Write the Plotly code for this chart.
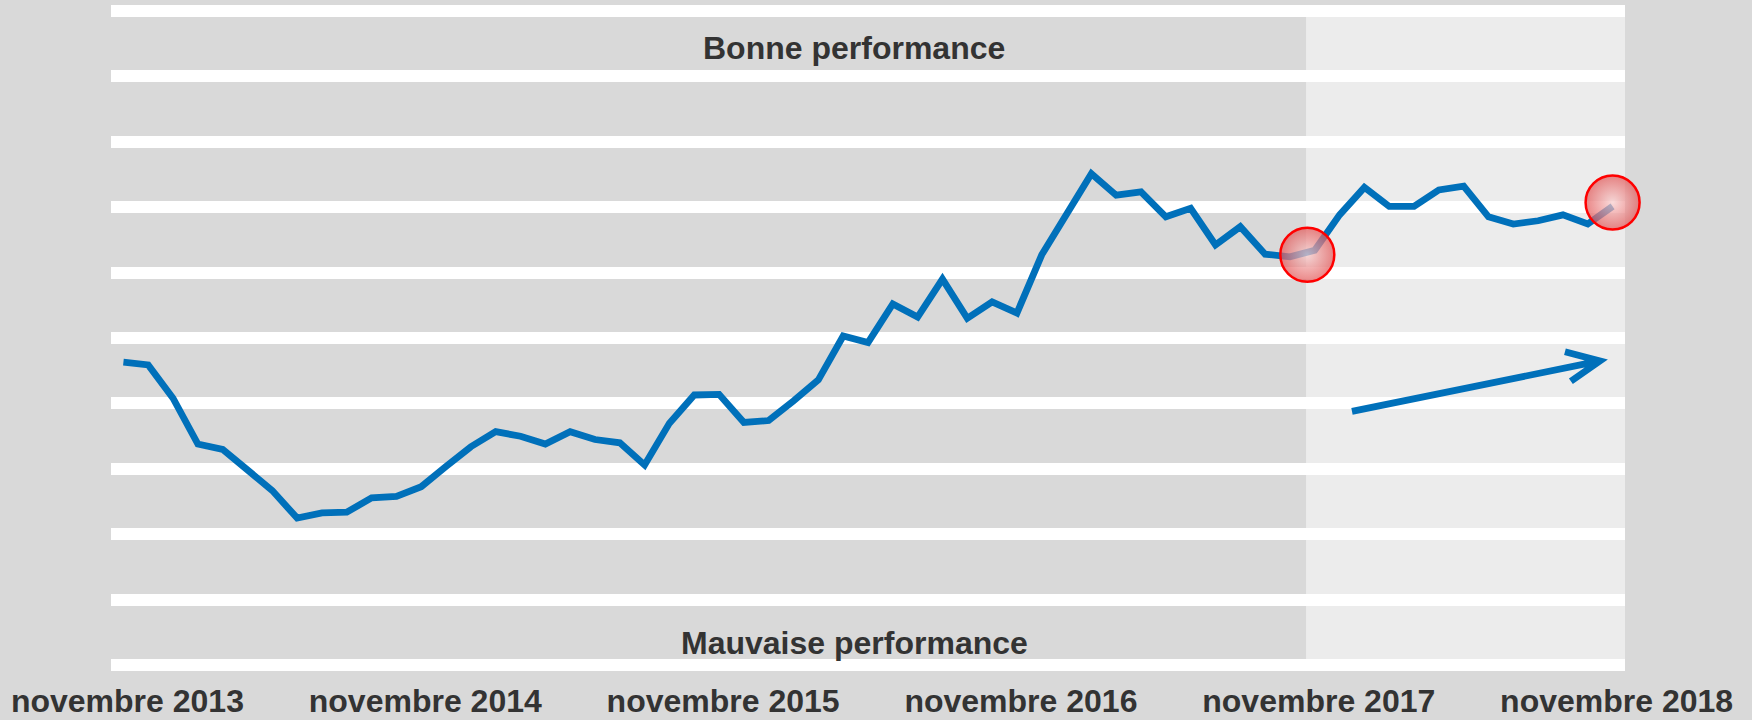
import plotly.graph_objects as go

# ---- data ----
tick_labels = ["novembre 2013", "novembre 2014", "novembre 2015",
               "novembre 2016", "novembre 2017", "novembre 2018"]
tick_months = [0, 12, 24, 36, 48, 60]          # month index of each label

months = list(range(61))                         # Nov 2013 .. Nov 2018, monthly
values = [4.63, 4.59, 4.08, 3.38, 3.30, 2.99, 2.67, 2.25, 2.33, 2.34,
          2.56, 2.58, 2.73, 3.04, 3.34, 3.57, 3.50, 3.38, 3.57, 3.45,
          3.40, 3.06, 3.70, 4.13, 4.14, 3.71, 3.74, 4.04, 4.36, 5.03,
          4.93, 5.52, 5.32, 5.90, 5.30, 5.55, 5.38, 6.27, 6.90, 7.51,
          7.18, 7.23, 6.85, 6.98, 6.42, 6.70, 6.28, 6.24, 6.34, 6.88,
          7.30, 7.01, 7.01, 7.26, 7.32, 6.85, 6.74, 6.79, 6.88, 6.74,
          7.01]

highlight_x = [47.7, 60.0]      # red circles
highlight_y = [6.27, 7.07]

recent_period_start = 47.65     # start of lighter (recent) period
arrow_tail = (49.5, 3.88)
arrow_tip = (59.49, 4.65)
arrow_wing_up = (58.08, 4.79)
arrow_wing_low = (58.32, 4.34)

top_label = "Bonne performance"
bottom_label = "Mauvaise performance"

BLUE = "#0070BA"
TEXT = "#333333"
FONT = "Liberation Sans, Arial, sans-serif"
FSIZE = 32

fig = go.Figure()

fig.add_trace(go.Scatter(
    x=months, y=values, mode="lines",
    line=dict(color=BLUE, width=6.8),
    hoverinfo="skip", showlegend=False,
))

fig.add_trace(go.Scatter(
    x=highlight_x, y=highlight_y, mode="markers", cliponaxis=False,
    marker=dict(size=54, color="rgba(226,88,88,0.72)",
                gradient=dict(type="radial", color="rgba(248,205,205,0.72)"),
                line=dict(color="#FF0000", width=2.5)),
    hoverinfo="skip", showlegend=False,
))

# lighter recent-period background
fig.add_shape(type="rect", xref="x", yref="y",
              x0=recent_period_start, x1=60.5, y0=0, y1=10,
              fillcolor="#ECECEC", line=dict(width=0), layer="below")

# trend arrow
path = (f"M {arrow_tail[0]},{arrow_tail[1]} L {arrow_tip[0]},{arrow_tip[1]} "
        f"M {arrow_wing_up[0]},{arrow_wing_up[1]} L {arrow_tip[0]},{arrow_tip[1]} "
        f"L {arrow_wing_low[0]},{arrow_wing_low[1]}")
fig.add_shape(type="path", xref="x", yref="y", path=path,
              line=dict(color=BLUE, width=6.8), layer="above")

fig.add_annotation(text=top_label, xref="paper", yref="paper",
                   x=0.4908, y=0.934, xanchor="center", yanchor="middle",
                   showarrow=False,
                   font=dict(family=FONT, size=FSIZE, color=TEXT, weight="bold"))
fig.add_annotation(text=bottom_label, xref="paper", yref="paper",
                   x=0.4908, y=0.0434, xanchor="center", yanchor="middle",
                   showarrow=False,
                   font=dict(family=FONT, size=FSIZE, color=TEXT, weight="bold"))

fig.update_xaxes(
    range=[-0.5, 60.5], showgrid=False, zeroline=False, showline=False,
    tickmode="array", tickvals=tick_months, ticktext=tick_labels,
    ticks="", ticklabelshift=4, ticklabelstandoff=7,
    tickfont=dict(family=FONT, size=FSIZE, color=TEXT, weight="bold"),
)
fig.update_yaxes(
    range=[-0.1, 10.1], tickmode="linear", tick0=0, dtick=1,
    showgrid=True, gridcolor="#FFFFFF", gridwidth=12,
    zeroline=False, showline=False, showticklabels=False, ticks="",
)

fig.update_layout(
    width=1752, height=720,
    margin=dict(l=111, r=127, t=4, b=48, autoexpand=False),
    paper_bgcolor="#D9D9D9", plot_bgcolor="#D9D9D9",
    showlegend=False,
)

fig.write_html(
    "out.html",
    config={"displayModeBar": False},
    post_script="document.body.style.margin='0';"
                "document.body.style.background='#D9D9D9';"
                "document.body.style.overflow='hidden';",
)
